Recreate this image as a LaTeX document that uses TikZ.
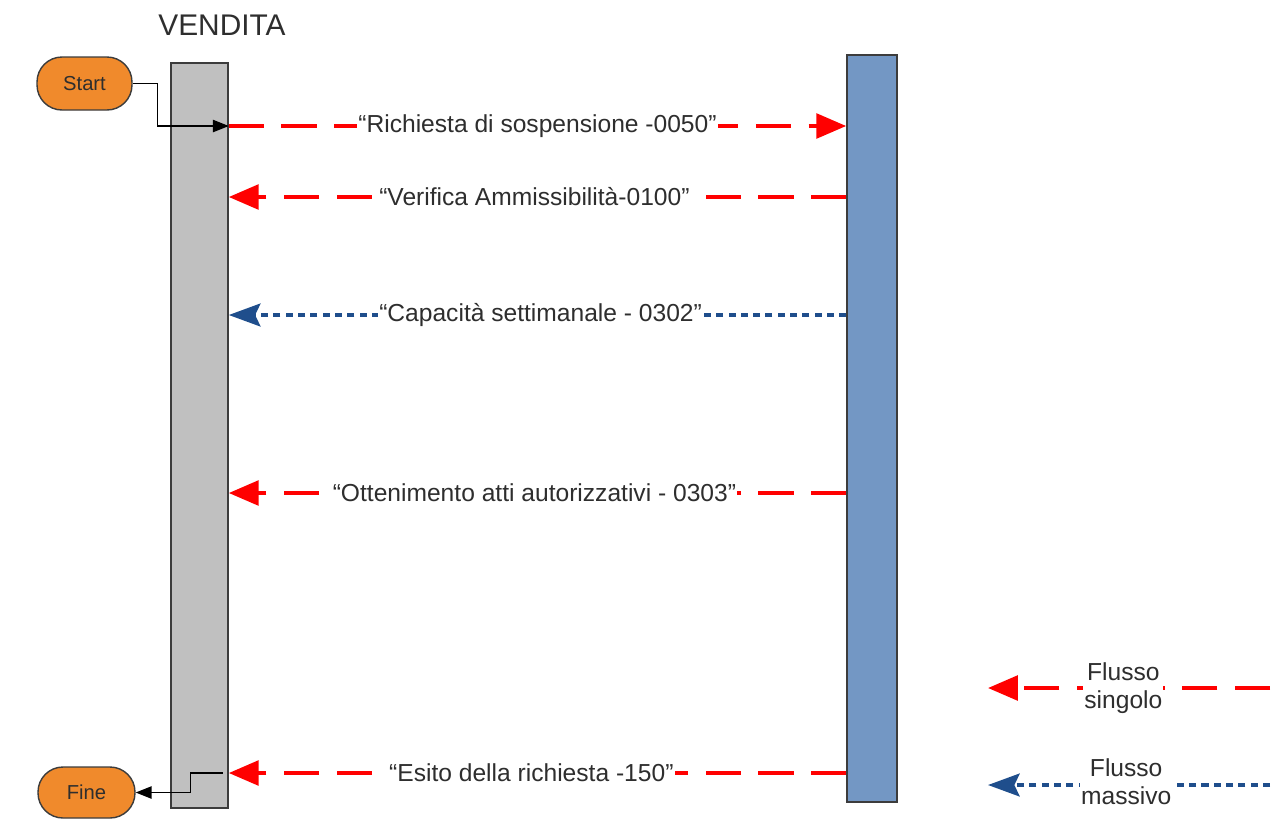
\documentclass[tikz,border=0pt]{standalone}
\usepackage{fontspec}
\setmainfont{Liberation Sans}
\usetikzlibrary{arrows.meta,positioning}
\definecolor{barGray}{HTML}{C0C0C0}
\definecolor{barBlue}{HTML}{7397C4}
\definecolor{termOrange}{HTML}{F08A2C}
\definecolor{flowRed}{HTML}{FF0000}
\definecolor{flowBlue}{HTML}{1F4E8C}
\definecolor{inkGray}{HTML}{2E2E2E}
\definecolor{edgeGray}{HTML}{3C3C3C}

\begin{document}
\begin{tikzpicture}[x=0.02cm,y=-0.02cm,
  lane/.style={draw=edgeGray,line width=0.9pt,inner sep=0pt},
  term/.style={draw=edgeGray,line width=0.8pt,fill=termOrange,rounded corners=0.5cm,inner sep=0pt,text=inkGray,font=\fontsize{11.5}{13}\selectfont},
  singolo/.style={flowRed,line width=2.2pt,dash pattern=on 20pt off 10pt,-{Triangle[length=17pt,width=14pt]}},
  massivo/.style={flowBlue,line width=2pt,dash pattern=on 4pt off 3pt,-{Stealth[length=18pt,width=13pt,inset=3pt]}},
  msg/.style={fill=white,text=inkGray,font=\fontsize{14}{16}\selectfont,inner sep=0.6pt},
  conn/.style={black,line width=0.7pt,-{Triangle[length=9pt,width=7pt]}}]
\useasboundingbox (0,0) rectangle (1281,819);
% swimlanes
\node[lane,fill=barGray,minimum width=1.14cm,minimum height=14.9cm] (gray) at (199.5,435.5) {};
\node[lane,fill=barBlue,minimum width=1.0cm,minimum height=14.94cm] (blue) at (872,428.5) {};
\node[text=inkGray,font=\fontsize{17}{20}\selectfont] (title) at (222,25) {VENDITA};
\node[term,minimum width=1.9cm,minimum height=1.06cm] (start) at (84.5,83.5) {Start};
\node[term,minimum width=1.94cm,minimum height=1.02cm] (fine) at (86.5,792.5) {Fine};
% messages
\coordinate (m1) at (gray.east |- 0,126);
\coordinate (m2) at (gray.east |- 0,197);
\coordinate (m3) at (gray.east |- 0,315);
\coordinate (m4) at (gray.east |- 0,493);
\coordinate (m5) at (gray.east |- 0,773);
\draw[singolo] (m1) -- (blue.west |- m1) node[msg,midway] {“Richiesta di sospensione -0050”};
\draw[singolo] (blue.west |- m2) -- (m2) node[msg,pos=.505] {“Verifica Ammissibilità-0100”};
\draw[massivo] (blue.west |- m3) -- (m3) node[msg,pos=.495] {“Capacità settimanale - 0302”};
\draw[singolo] (blue.west |- m4) -- (m4) node[msg,pos=.505] {“Ottenimento atti autorizzativi - 0303”};
\draw[singolo] (blue.west |- m5) -- (m5) node[msg,pos=.51] {“Esito della richiesta -150”};
\draw[conn] (start.east) -- ++(25,0) |- (m1);
\draw[conn] ([xshift=-.12cm]m5) -- ++(-32,0) |- (fine.east);
% legend
\draw[singolo] (1270,688) -- (988,688) node[msg,align=center,pos=.52] {Flusso\\singolo};
\draw[massivo] (1270,785) -- (988,785) node[msg,align=center,pos=.51,yshift=2pt] {Flusso\\massivo};
\end{tikzpicture}
\end{document}
